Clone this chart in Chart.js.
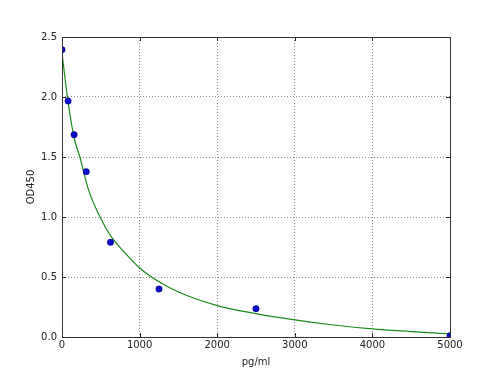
<!DOCTYPE html>
<html>
<head>
<meta charset="utf-8">
<script src="https://cdn.jsdelivr.net/npm/chart.js@4"></script>
<style>
  html, body { margin: 0; padding: 0; background: #fff; }
  #wrap { width: 500px; height: 375px; }
</style>
</head>
<body>
<div id="wrap"><canvas id="chart"></canvas></div>
<script>
// standards (pg/ml) and measured OD450
const concX = [0, 78.125, 156.25, 312.5, 625, 1250, 2500, 5000];
const odY = [2.394, 1.967, 1.686, 1.378, 0.789, 0.40, 0.236, 0.01];

// fitted curve
const fitX = [0, 40, 80, 160, 230, 340, 490, 625, 800, 1000, 1250, 1500, 2000, 2500, 3000, 3500, 4000, 4500, 5000];
const fitY = [2.37, 2.15, 1.95, 1.65, 1.50, 1.23, 1.00, 0.845, 0.71, 0.575, 0.46, 0.375, 0.262, 0.195, 0.143, 0.10, 0.067, 0.045, 0.025];

const xTicks = [0, 1000, 2000, 3000, 4000, 5000];
const yTicks = [0.0, 0.5, 1.0, 1.5, 2.0, 2.5];

const toPts = (xs, ys) => xs.map((x, i) => ({ x: x, y: ys[i] }));

const fontFam = "'DejaVu Sans', sans-serif";

// matplotlib-like frame with inward ticks
const framePlugin = {
  id: 'frame',
  afterDraw(chart) {
    const { ctx, chartArea: a, scales } = chart;
    ctx.save();
    ctx.strokeStyle = '#222';
    ctx.lineWidth = 1;
    ctx.beginPath();
    xTicks.forEach(v => {
      const px = Math.round(scales.x.getPixelForValue(v)) + 0.5;
      ctx.moveTo(px, a.bottom); ctx.lineTo(px, a.bottom - 4);
      ctx.moveTo(px, a.top); ctx.lineTo(px, a.top + 4);
    });
    yTicks.forEach(v => {
      const py = Math.round(scales.y.getPixelForValue(v)) + 0.5;
      ctx.moveTo(a.left, py); ctx.lineTo(a.left + 4, py);
      ctx.moveTo(a.right, py); ctx.lineTo(a.right - 4, py);
    });
    ctx.stroke();
    ctx.strokeStyle = '#333';
    ctx.strokeRect(Math.round(a.left) + 0.5, Math.round(a.top) + 0.5,
      Math.round(a.right - a.left), Math.round(a.bottom - a.top));
    ctx.restore();
  }
};

new Chart(document.getElementById('chart'), {
  type: 'scatter',
  data: {
    datasets: [
      {
        label: 'fit',
        type: 'line',
        data: toPts(fitX, fitY),
        borderColor: '#1a8a1a',
        borderWidth: 1.2,
        pointRadius: 0,
        cubicInterpolationMode: 'monotone',
        fill: false,
        order: 2
      },
      {
        label: 'standards',
        data: toPts(concX, odY),
        backgroundColor: '#0a0acc',
        borderColor: '#000070',
        borderWidth: 0.5,
        pointRadius: 3.2,
        clip: 0,
        order: 1
      }
    ]
  },
  options: {
    responsive: true,
    maintainAspectRatio: false,
    animation: false,
    layout: { padding: { left: 0, top: 37, right: 50, bottom: 0 } },
    plugins: { legend: { display: false }, tooltip: { enabled: false } },
    scales: {
      x: {
        type: 'linear',
        min: 0, max: 5000,
        afterBuildTicks: s => { s.ticks = xTicks.map(v => ({ value: v })); },
        afterFit: s => { s.height = 38; },
        ticks: {
          padding: 2,
          maxRotation: 0,
          color: '#222',
          font: { family: fontFam, size: 10 },
          callback: v => String(v)
        },
        grid: {
          color: 'rgba(0,0,0,0.45)',
          lineWidth: 1,
          drawTicks: false,
          tickLength: 0
        },
        border: { display: false, dash: [1, 2] },
        title: {
          display: true,
          text: 'pg/ml',
          color: '#222',
          font: { family: fontFam, size: 10 },
          padding: { top: 0, bottom: 7 }
        }
      },
      y: {
        type: 'linear',
        min: 0, max: 2.5,
        afterBuildTicks: s => { s.ticks = yTicks.map(v => ({ value: v })); },
        afterFit: s => { s.width = 62; },
        ticks: {
          padding: 5,
          color: '#222',
          font: { family: fontFam, size: 10 },
          callback: v => Number(v).toFixed(1)
        },
        grid: {
          color: 'rgba(0,0,0,0.45)',
          lineWidth: 1,
          drawTicks: false,
          tickLength: 0
        },
        border: { display: false, dash: [1, 2] },
        title: {
          display: true,
          text: 'OD450',
          color: '#222',
          font: { family: fontFam, size: 10 },
          padding: { top: 25, bottom: 0 }
        }
      }
    }
  },
  plugins: [framePlugin]
});
</script>
</body>
</html>
